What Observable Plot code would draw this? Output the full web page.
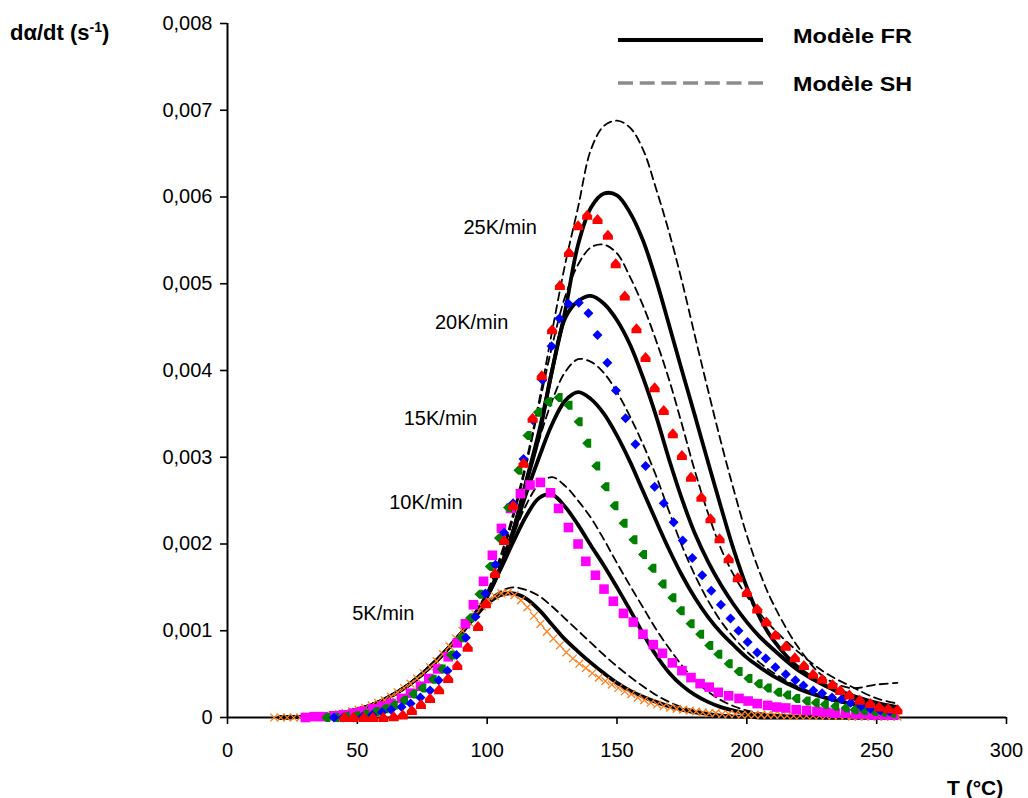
<!DOCTYPE html>
<html><head><meta charset="utf-8">
<script src="https://cdn.jsdelivr.net/npm/d3@7"></script>
<script src="https://cdn.jsdelivr.net/npm/@observablehq/plot@0.6"></script>
<style>
body{margin:0;background:#fff;}
#wrap{position:relative;width:1028px;height:798px;}
#over{position:absolute;left:0;top:0;pointer-events:none;}
#over text{font-family:'Liberation Sans',Arial,sans-serif;font-weight:bold;fill:#000;}
</style></head><body><div id="wrap"></div>
<script>
// ---- axis ticks ----
const xTicks = [0, 50, 100, 150, 200, 250, 300];
const yTicks = [0, 1, 2, 3, 4, 5, 6, 7, 8]; // in units of 0.001 s-1

// ---- model curves (T grid, values in 0.001 s-1) ----
const G = [20,30,40,50,60,70,80,90,95,100,105,110,115,120,125,130,135,140,145,150,155,160,165,170,175,180,185,190,195,200,205,210,220,230,240,250,258];
const FR5  = [0,0.01,0.03,0.09,0.2,0.38,0.64,0.97,1.15,1.31,1.41,1.43,1.37,1.24,1.07,0.9,0.76,0.63,0.51,0.4,0.31,0.24,0.18,0.13,0.09,0.06,0.04,0.02,0.01,0.01,0,0,0,0,0,0,0];
const SH5  = [0,0.01,0.03,0.09,0.2,0.38,0.64,0.98,1.17,1.34,1.45,1.5,1.47,1.4,1.28,1.14,1.0,0.86,0.72,0.59,0.47,0.36,0.26,0.18,0.12,0.08,0.05,0.03,0.02,0.01,0,0,0,0,0,0,0];
const FR10 = [0,0.01,0.03,0.09,0.2,0.38,0.64,0.97,1.17,1.4,1.7,2.02,2.32,2.53,2.57,2.43,2.22,1.98,1.75,1.5,1.24,0.97,0.72,0.52,0.37,0.26,0.18,0.12,0.08,0.05,0.03,0.02,0.01,0,0,0,0];
const SH10 = [0,0.01,0.03,0.09,0.2,0.38,0.64,0.98,1.19,1.43,1.74,2.1,2.45,2.69,2.77,2.67,2.5,2.3,2.05,1.78,1.52,1.27,1.02,0.8,0.6,0.43,0.3,0.2,0.13,0.08,0.05,0.03,0.01,0,0,0,0];
const FR15 = [0,0.01,0.03,0.09,0.2,0.38,0.64,0.97,1.17,1.4,1.72,2.12,2.58,3.0,3.38,3.65,3.75,3.67,3.5,3.25,2.95,2.61,2.27,1.94,1.64,1.38,1.16,0.98,0.83,0.69,0.58,0.48,0.33,0.23,0.16,0.11,0.08];
const SH15 = [0,0.01,0.03,0.09,0.2,0.38,0.64,0.98,1.19,1.43,1.76,2.18,2.68,3.2,3.65,3.98,4.13,4.1,3.97,3.75,3.47,3.15,2.79,2.38,1.98,1.64,1.35,1.11,0.92,0.76,0.63,0.52,0.35,0.24,0.17,0.13,0.12];
const FR20 = [0,0.01,0.03,0.09,0.2,0.38,0.64,0.97,1.17,1.4,1.72,2.15,2.7,3.25,4.0,4.6,4.8,4.86,4.77,4.58,4.3,3.92,3.48,2.98,2.52,2.12,1.8,1.53,1.3,1.1,0.93,0.79,0.54,0.37,0.26,0.17,0.12];
const SH20 = [0,0.01,0.03,0.09,0.2,0.38,0.64,0.98,1.19,1.43,1.8,2.3,2.9,3.6,4.28,4.85,5.22,5.42,5.45,5.35,5.08,4.75,4.35,3.9,3.38,2.84,2.36,1.95,1.64,1.4,1.2,1.03,0.75,0.52,0.36,0.22,0.16];
const FR25 = [0,0.01,0.03,0.09,0.2,0.38,0.64,0.97,1.17,1.4,1.72,2.15,2.72,3.3,4.0,4.68,5.45,5.88,6.04,6.02,5.82,5.5,5.05,4.53,4.0,3.48,2.95,2.43,1.93,1.5,1.15,0.9,0.57,0.37,0.23,0.13,0.08];
const SH25 = [0,0.01,0.03,0.09,0.2,0.38,0.64,0.98,1.2,1.45,1.85,2.35,2.95,3.65,4.45,5.22,5.88,6.55,6.82,6.88,6.8,6.55,6.1,5.6,5.03,4.4,3.78,3.18,2.62,2.1,1.67,1.32,0.8,0.46,0.34,0.38,0.4];

// ---- experimental points ----
const T5 = [18,20.5,23,25.5,28,30.5,33,35.5,38,40.5,43,45.5,48,50.5,53,55.5,58,60.5,63,65.5,68,70.5,73,75.5,78,80.5,83,85.5,88,90.5,93,95.5,98,100.5,103,105.5,108,110.5,113,115.5,118,120.5,123,125.5,128,130.5,133,135.5,138,140.5,143,145.5,148,150.5,153,155.5,158,160.5,163,165.5,168,170.5,173,175.5,178,180.5,183,185.5,188,190.5,193,195.5,198,200.5,203,205.5,208,210.5,213,215.5,218,220.5,223,225.5,228,230.5,233,235.5,238,240.5,243,245.5,248,250.5,253,255.5,258];
const Y5 = [0,0,0,0,0,0.01,0.01,0.01,0.02,0.03,0.04,0.05,0.07,0.09,0.11,0.14,0.17,0.2,0.24,0.29,0.34,0.39,0.45,0.51,0.58,0.65,0.73,0.82,0.91,1.0,1.1,1.19,1.28,1.35,1.4,1.43,1.44,1.41,1.35,1.27,1.17,1.08,0.99,0.91,0.83,0.75,0.68,0.62,0.57,0.51,0.46,0.42,0.38,0.34,0.3,0.27,0.23,0.2,0.17,0.15,0.13,0.115,0.1,0.09,0.08,0.07,0.06,0.05,0.05,0.04,0.04,0.04,0.03,0.03,0.03,0.03,0.03,0.03,0.03,0.02,0.02,0.02,0.02,0.02,0.02,0.02,0.02,0.02,0.02,0.01,0.01,0.01,0.01,0.01,0.01,0.01,0.01];
const T10 = [30,33.5,37,41,44.5,48.5,52,56,59.5,63,67,70.5,74.3,77.5,81,85,88.5,91.6,94.7,98.6,102,105.5,109,112.8,116.5,120.5,124.4,127.5,131.3,135,138,141.7,145,148.6,152.5,156.3,160,164,167.5,171.3,175,178.5,182,185.5,189,193,197,200.5,204,208,211.5,215,219,223,227,230.5,234,238,242,245.5,249,253,256.5];
const Y10 = [0,0.01,0.01,0.02,0.03,0.05,0.07,0.1,0.13,0.16,0.22,0.28,0.36,0.45,0.56,0.7,0.86,1.08,1.3,1.57,1.87,2.18,2.41,2.58,2.68,2.71,2.59,2.41,2.19,2.0,1.8,1.64,1.48,1.34,1.2,1.1,0.96,0.84,0.74,0.63,0.54,0.46,0.39,0.35,0.29,0.25,0.22,0.19,0.16,0.14,0.12,0.11,0.09,0.08,0.07,0.06,0.05,0.05,0.04,0.04,0.03,0.03,0.03];
const T15 = [38,41.5,45.5,49.5,53,57,60.5,64,68,71.5,75,79,82.5,86,90,93.5,97,101,104.5,108,112,115.5,119.5,123.5,127.5,131.3,135.2,138.5,142,145.5,149,152.5,156.3,160,163.6,167.5,171.3,174.5,178.3,182,185.5,189,193,196.8,200.6,204.5,208,212,215.5,219,223,226.5,230,234,238,241.5,245,249,252.5,256];
const Y15 = [0,0,0.01,0.02,0.04,0.07,0.1,0.14,0.2,0.27,0.34,0.44,0.56,0.72,0.92,1.15,1.42,1.74,2.07,2.42,2.85,3.25,3.52,3.64,3.69,3.6,3.41,3.16,2.9,2.66,2.44,2.24,2.05,1.88,1.72,1.54,1.38,1.23,1.08,0.96,0.83,0.73,0.62,0.53,0.45,0.39,0.34,0.29,0.26,0.22,0.19,0.17,0.15,0.13,0.11,0.09,0.08,0.07,0.06,0.05];
const T20 = [41,44.5,48.5,52,55.7,59.5,63,67,70.5,74.3,78,81.3,84.7,88.2,91.8,95.5,99.3,103.2,106.5,110,114,117.5,121.3,124.8,127.8,131.3,135.3,139,142.5,146.3,149.6,153.3,157.1,161,164.5,168,171.8,175.3,179,182.8,186.3,190,193.7,196.8,200.3,204,207.3,211,215,218.7,221.8,225.6,229,232.8,236.5,240,244,247.6,251.3,255];
const Y20 = [0,0,0,0.01,0.03,0.06,0.09,0.12,0.16,0.23,0.31,0.43,0.54,0.72,0.92,1.16,1.43,1.76,2.13,2.47,2.98,3.43,3.89,4.28,4.6,4.77,4.78,4.66,4.41,4.09,3.77,3.45,3.15,2.9,2.66,2.47,2.25,2.04,1.84,1.64,1.46,1.3,1.14,1.0,0.87,0.75,0.68,0.58,0.5,0.43,0.37,0.31,0.28,0.23,0.21,0.17,0.13,0.1,0.08,0.07];
const T25 = [45,48.5,52.5,56,60,64,67.5,71,74.5,78,81.5,85,88.5,92.5,96.5,99.5,103,106.5,110,114,117.5,121,125,128,131.5,135,138.5,142.5,146.5,149.5,153,157.5,161,164.5,168,171.5,175,178.5,182.5,186,189.5,193,196.5,200,204,207.5,211,215,218.5,222,225.5,229,233,236,239.5,243.5,247.5,251,254.5,258];
const Y25 = [0,0,0,0,0,0.01,0.03,0.08,0.15,0.22,0.32,0.45,0.6,0.81,1.05,1.31,1.66,2.04,2.44,2.93,3.45,3.94,4.47,4.98,5.36,5.67,5.79,5.74,5.56,5.23,4.86,4.48,4.15,3.8,3.54,3.27,3.02,2.77,2.54,2.29,2.06,1.83,1.61,1.44,1.25,1.1,0.95,0.82,0.69,0.6,0.5,0.44,0.38,0.31,0.26,0.2,0.16,0.12,0.1,0.09];

// ---- rate annotations ----
const rateLabels = ["25K/min", "20K/min", "15K/min", "10K/min", "5K/min"];
const rateLabelT = [105, 94, 82, 76.4, 60];
const rateLabelV = [5.65, 4.55, 3.44, 2.48, 1.2];

const rows = (T, v) => T.map((t, i) => ({T: t, v: v[i]}));
const fmt = d => d === 0 ? "0" : (d / 1000).toFixed(3).replace(".", ",");
const rad = s => Math.sqrt(s / Math.PI);
const symHouseUp = {draw(c, s) { const r = rad(s); c.moveTo(0, -1.1*r); c.lineTo(r, 0.05*r); c.lineTo(r, 0.9*r); c.lineTo(-r, 0.9*r); c.lineTo(-r, 0.05*r); c.closePath(); }};
const symHouseLeft = {draw(c, s) { const r = rad(s); c.moveTo(-1.1*r, 0); c.lineTo(-0.05*r, -r); c.lineTo(0.9*r, -r); c.lineTo(0.9*r, r); c.lineTo(-0.05*r, r); c.closePath(); }};
const symDiamond = {draw(c, s) { const r = rad(s); c.moveTo(0, -r); c.lineTo(r, 0); c.lineTo(0, r); c.lineTo(-r, 0); c.closePath(); }};
const symSquare = {draw(c, s) { const r = rad(s); c.rect(-r, -r, 2*r, 2*r); }};
const symCross = {draw(c, s) { const r = rad(s); c.moveTo(-r, -r); c.lineTo(r, r); c.moveTo(r, -r); c.lineTo(-r, r); }};

const frSeries = [FR5, FR10, FR15, FR20, FR25];
const shSeries = [SH5, SH10, SH15, SH20, SH25];

const marks = [
  Plot.axisY({ticks: yTicks, tickFormat: fmt, tickSize: 7, tickPadding: 8, strokeWidth: 1.6, label: null}),
  Plot.axisX({ticks: xTicks, tickSize: 7, tickPadding: 18, strokeWidth: 1.6, label: null}),
  Plot.ruleX([0], {strokeWidth: 2}),
  Plot.ruleY([0], {strokeWidth: 2}),
];
shSeries.forEach(s => marks.push(Plot.line(rows(G, s), {x: "T", y: "v", curve: "catmull-rom", stroke: "#000", strokeWidth: 1.8, strokeDasharray: "8,5"})));
frSeries.forEach(s => marks.push(Plot.line(rows(G, s), {x: "T", y: "v", curve: "catmull-rom", stroke: "#000", strokeWidth: 3.8})));
marks.push(
  Plot.dot(rows(T5, Y5), {x: "T", y: "v", symbol: symCross, r: 3.9, fill: "none", stroke: "#ff7f1e", strokeWidth: 1.3}),
  Plot.dot(rows(T10, Y10), {x: "T", y: "v", symbol: symSquare, r: 4.8, fill: "#ff00ff", stroke: "none"}),
  Plot.dot(rows(T15, Y15), {x: "T", y: "v", symbol: symHouseLeft, r: 4.5, fill: "#008000", stroke: "none"}),
  Plot.dot(rows(T20, Y20), {x: "T", y: "v", symbol: symDiamond, r: 5, fill: "#0000ff", stroke: "none"}),
  Plot.dot(rows(T25, Y25), {x: "T", y: "v", symbol: symHouseUp, r: 5, fill: "#ff0000", stroke: "none"}),
  Plot.text(rateLabels.map((l, i) => ({label: l, T: rateLabelT[i], v: rateLabelV[i]})), {x: "T", y: "v", text: "label", fontSize: 20, fill: "#000"})
);

const plot = Plot.plot({
  width: 1028, height: 798,
  marginLeft: 227, marginRight: 22, marginTop: 23, marginBottom: 81,
  x: {domain: [0, 300]},
  y: {domain: [0, 8]},
  style: {fontFamily: "'Liberation Sans', Arial, sans-serif", fontSize: "20px", color: "#000", background: "#fff"},
  marks
});
const wrap = document.getElementById("wrap");
wrap.append(plot);

const over = document.createElementNS("http://www.w3.org/2000/svg", "svg");
over.setAttribute("id", "over");
over.setAttribute("width", 1028);
over.setAttribute("height", 798);
over.innerHTML = `
  <text x="10" y="40" font-size="22">dα/dt (s<tspan dy="-8" font-size="14">-1</tspan><tspan dy="8">)</tspan></text>
  <line x1="618" x2="763" y1="40" y2="40" stroke="#000" stroke-width="4"/>
  <text x="793" y="43" font-size="21" textLength="119" lengthAdjust="spacingAndGlyphs">Modèle FR</text>
  <line x1="618" x2="763" y1="83" y2="83" stroke="#8c8c8c" stroke-width="3.5" stroke-dasharray="15,6.7"/>
  <text x="793" y="91" font-size="21" textLength="119" lengthAdjust="spacingAndGlyphs">Modèle SH</text>
  <text x="947" y="795" font-size="21">T (°C)</text>`;
wrap.append(over);
</script></body></html>
